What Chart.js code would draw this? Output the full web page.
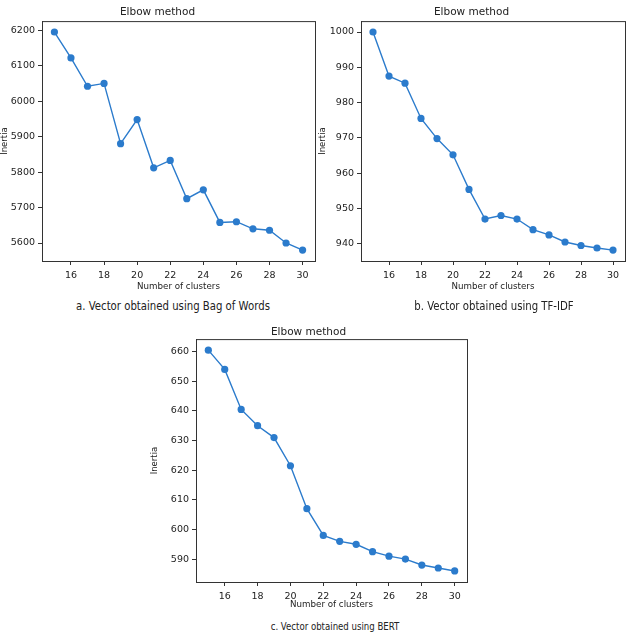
<!DOCTYPE html>
<html>
<head>
<meta charset="utf-8">
<script src="https://cdn.jsdelivr.net/npm/chart.js@4/dist/chart.umd.min.js"></script>
<style>
  body { margin: 0; background: #fff; width: 640px; height: 640px; position: relative; overflow: hidden; }
  canvas { position: absolute; }
  .cap { position: absolute; font-family: "DejaVu Sans", sans-serif; color: #222; text-align: center; white-space: nowrap; transform: scaleX(0.78); }
</style>
</head>
<body>
<canvas id="chartA" style="left:0;top:0"></canvas>
<canvas id="chartB" style="left:318px;top:0"></canvas>
<canvas id="chartC" style="left:150px;top:318px"></canvas>
<div class="cap" style="left:33px;top:298px;width:280px;font-size:13px">a. Vector obtained using Bag of Words</div>
<div class="cap" style="left:354px;top:298px;width:280px;font-size:13px">b. Vector obtained using TF-IDF</div>
<div class="cap" style="left:195px;top:620px;width:280px;font-size:11px">c. Vector obtained using BERT</div>
<script>
// elbow curves, k = 15..30
const clusters = [15, 16, 17, 18, 19, 20, 21, 22, 23, 24, 25, 26, 27, 28, 29, 30];
const inertiaBow = [6195, 6122, 6042, 6050, 5880, 5948, 5812, 5833, 5725, 5750, 5658, 5660, 5640, 5636, 5600, 5580];
const inertiaTfidf = [1000, 987.5, 985.5, 975.5, 969.8, 965.2, 955.4, 947, 948, 947, 944, 942.5, 940.5, 939.5, 938.8, 938.2];
const inertiaBert = [660.5, 654, 640.5, 635, 631, 621.5, 607, 598, 596, 595, 592.5, 591, 590, 588, 587, 586];

const xTicks = [16, 18, 20, 22, 24, 26, 28, 30];
const yTicksBow = [5600, 5700, 5800, 5900, 6000, 6100, 6200];
const yTicksTfidf = [940, 950, 960, 970, 980, 990, 1000];
const yTicksBert = [590, 600, 610, 620, 630, 640, 650, 660];

const blue = "#2b7bcc";
const ink = "#333";
const fam = '"DejaVu Sans", sans-serif';

// matplotlib style closed box round the plot
const frame = {
  id: "frame",
  afterDraw(chart) {
    const { ctx, chartArea: a } = chart;
    ctx.save();
    ctx.strokeStyle = ink;
    ctx.lineWidth = 1;
    ctx.strokeRect(a.left + 0.5, a.top + 0.5, a.right - a.left, a.bottom - a.top);
    ctx.restore();
  },
};

// matplotlib pads 5% of the data range on each side
function padRange(vals) {
  const lo = Math.min(...vals), hi = Math.max(...vals);
  const m = (hi - lo) * 0.05;
  return [lo - m, hi + m];
}

function elbow(id, w, h, values, yTicks, opts) {
  const el = document.getElementById(id);
  el.width = w;
  el.height = h;
  const [ymin, ymax] = padRange(values);
  const [xmin, xmax] = padRange(clusters);
  return new Chart(el.getContext("2d"), {
    type: "line",
    data: {
      datasets: [{
        data: clusters.map((k, i) => ({ x: k, y: values[i] })),
        borderColor: blue,
        backgroundColor: blue,
        pointBackgroundColor: blue,
        pointBorderWidth: 0,
        pointRadius: 3.6,
        borderWidth: 1.4,
        tension: 0,
      }],
    },
    options: {
      responsive: false,
      animation: false,
      events: [],
      layout: { padding: { left: 0, right: opts.right, top: 0, bottom: 0 } },
      plugins: {
        legend: { display: false },
        tooltip: { enabled: false },
        title: {
          display: true,
          text: "Elbow method",
          color: "#222",
          font: { family: fam, size: 10.5, weight: "normal" },
          padding: { top: opts.titleTop, bottom: opts.titleBottom },
        },
      },
      scales: {
        x: {
          type: "linear",
          min: xmin,
          max: xmax,
          afterBuildTicks: (s) => { s.ticks = xTicks.map((v) => ({ value: v })); },
          afterFit: (s) => { s.height = opts.xh; },
          grid: { display: true, drawOnChartArea: false, tickLength: 4, color: ink },
          border: { color: ink },
          ticks: { color: "#222", padding: 5, maxRotation: 0, font: { family: fam, size: 9.5 }, callback: (v) => String(v) },
          title: { display: true, text: "Number of clusters", color: "#222", padding: { top: 0, bottom: 3 }, font: { family: fam, size: 8.7 } },
        },
        y: {
          min: ymin,
          max: ymax,
          afterBuildTicks: (s) => { s.ticks = yTicks.map((v) => ({ value: v })); },
          afterFit: (s) => { s.width = opts.yw; },
          grid: { display: true, drawOnChartArea: false, tickLength: 4, color: ink },
          border: { color: ink },
          ticks: { color: "#222", padding: 3, font: { family: fam, size: 9.5 }, callback: (v) => String(v) },
          title: { display: true, text: "Inertia", color: "#222", padding: { top: 0, bottom: 3 }, font: { family: fam, size: 8.5 } },
        },
      },
    },
    plugins: [frame],
  });
}

elbow("chartA", 320, 295, inertiaBow, yTicksBow, { right: 5, yw: 42, xh: 34, titleTop: 6, titleBottom: 2.5 });
elbow("chartB", 320, 295, inertiaTfidf, yTicksTfidf, { right: 13, yw: 43, xh: 34, titleTop: 6, titleBottom: 2.5 });
elbow("chartC", 330, 295, inertiaBert, yTicksBert, { right: 13, yw: 46, xh: 31, titleTop: 8, titleBottom: 0.5 });
</script>
</body>
</html>
